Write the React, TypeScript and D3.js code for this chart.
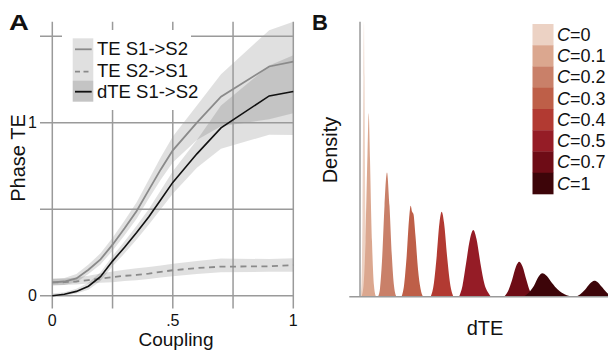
import React from "react";
import * as d3 from "d3";

// ---------- Panel A data ----------
const coupling = [0, 0.05, 0.1, 0.15, 0.2, 0.25, 0.3, 0.35, 0.4, 0.45, 0.5, 0.6, 0.7, 0.9, 1];
const te12 = [0.077, 0.082, 0.1, 0.15, 0.21, 0.295, 0.39, 0.49, 0.61, 0.73, 0.84, 1.0, 1.15, 1.325, 1.353];
const te12Lo = [0.057, 0.062, 0.078, 0.125, 0.18, 0.26, 0.35, 0.445, 0.56, 0.67, 0.77, 0.9, 0.98, 1.02, 1.054];
const te12Hi = [0.097, 0.102, 0.125, 0.18, 0.245, 0.335, 0.435, 0.54, 0.67, 0.8, 0.92, 1.1, 1.28, 1.535, 1.584];
const te21 = [0.077, 0.078, 0.082, 0.09, 0.098, 0.107, 0.115, 0.12, 0.128, 0.138, 0.147, 0.16, 0.168, 0.17, 0.177];
const te21Lo = [0.062, 0.062, 0.065, 0.07, 0.075, 0.078, 0.085, 0.09, 0.097, 0.105, 0.112, 0.125, 0.135, 0.138, 0.138];
const te21Hi = [0.1, 0.1, 0.105, 0.115, 0.128, 0.14, 0.15, 0.158, 0.166, 0.175, 0.185, 0.2, 0.215, 0.212, 0.216];
const dte = [0, 0.008, 0.025, 0.055, 0.11, 0.2, 0.28, 0.365, 0.455, 0.555, 0.655, 0.82, 0.97, 1.155, 1.18];
const dteLo = [0, 0, 0.012, 0.035, 0.085, 0.17, 0.245, 0.325, 0.41, 0.5, 0.59, 0.74, 0.85, 0.93, 0.929];
const dteHi = [0.012, 0.02, 0.04, 0.075, 0.135, 0.23, 0.315, 0.405, 0.5, 0.61, 0.72, 0.9, 1.1, 1.33, 1.39];

const xTicksA = [0, 0.25, 0.5, 0.75, 1];
const xTickLabelsA = ["0", "", ".5", "", "1"];
const yTicksA = [0, 0.5, 1, 1.5];
const yTickLabelsA = ["0", "", "1", ""];
const legendA = ["TE S1->S2", "TE S2->S1", "dTE S1->S2"];

// ---------- Panel B data ----------
const cLabels = ["0", "0.1", "0.2", "0.3", "0.4", "0.5", "0.7", "1"];
const cColors = ["#ecd2c4", "#dba78f", "#c98069", "#be5f48", "#b23a32", "#951c26", "#6e0c16", "#3d0509"];
const densC0 = [[0.0025, 0], [0.0075, 0.05], [0.0125, 0.3], [0.0175, 0.8], [0.02, 1.0], [0.0225, 0.8], [0.0275, 0.3], [0.0325, 0.05], [0.04, 0]];
const densC01 = [[0.0075, 0], [0.0175, 0.04], [0.0275, 0.2], [0.0375, 0.52], [0.0435, 0.667], [0.05, 0.5], [0.06, 0.2], [0.07, 0.04], [0.08, 0]];
const densC02 = [[0.09, 0], [0.1, 0.03], [0.11, 0.13], [0.1225, 0.33], [0.135, 0.452], [0.1475, 0.33], [0.16, 0.14], [0.17, 0.04], [0.1825, 0]];
const densC03 = [[0.2075, 0], [0.22, 0.04], [0.2325, 0.14], [0.245, 0.28], [0.2535, 0.331], [0.26, 0.31], [0.2675, 0.3], [0.2775, 0.22], [0.29, 0.1], [0.3025, 0.03], [0.315, 0]];
const densC04 = [[0.3525, 0], [0.3675, 0.04], [0.3825, 0.14], [0.3975, 0.27], [0.4085, 0.309], [0.42, 0.27], [0.435, 0.15], [0.45, 0.05], [0.4675, 0]];
const densC05 = [[0.495, 0], [0.5125, 0.04], [0.53, 0.12], [0.55, 0.21], [0.5665, 0.2425], [0.5825, 0.21], [0.6025, 0.12], [0.6225, 0.045], [0.645, 0.01], [0.655, 0]];
const densC07 = [[0.72, 0], [0.74, 0.02], [0.76, 0.06], [0.78, 0.11], [0.7965, 0.127], [0.8125, 0.11], [0.8325, 0.06], [0.85, 0.02], [0.87, 0]];
const densC1 = [[0.815, 0], [0.84, 0.012], [0.87, 0.04], [0.895, 0.075], [0.9115, 0.085], [0.93, 0.078], [0.96, 0.05], [0.99, 0.025], [1.025, 0.008], [1.06, 0.001], [1.075, 0], [1.1, 0.008], [1.125, 0.025], [1.15, 0.048], [1.1715, 0.058], [1.19, 0.052], [1.21, 0.035], [1.23, 0.018], [1.25, 0.005], [1.27, 0]];
const densities = [densC0, densC01, densC02, densC03, densC04, densC05, densC07, densC1];

const FONT = "'Liberation Sans', Arial, Helvetica, sans-serif";
const GRID = "#9a9a9a";

export default function App() {
  // Panel A scales
  const xA = d3.scaleLinear().domain([0, 1]).range([52.3, 293.3]);
  const yA = d3.scaleLinear().domain([0, 1]).range([295.7, 122.7]);
  const idx = coupling.map((_, i) => i);

  const band = (lo: number[], hi: number[]) =>
    d3.area<number>().x((i) => xA(coupling[i])).y0((i) => yA(lo[i])).y1((i) => yA(hi[i]))(idx) || "";
  const line = (v: number[]) => d3.line<number>().x((i) => xA(coupling[i])).y((i) => yA(v[i]))(idx) || "";

  // Panel B scales
  const xB = d3.scaleLinear().domain([0, 1.24]).range([360, 608]);
  const yB = d3.scaleLinear().domain([0, 1]).range([296.7, 21.7]);
  const densArea = d3
    .area<number[]>()
    .x((p) => xB(p[0]))
    .y0(yB(0))
    .y1((p) => yB(p[1]))
    .curve(d3.curveMonotoneX);

  const legY = [49.3, 71.7, 91.7];
  const legBase = [55, 76.7, 98.3];
  const swH = 21.25;

  return (
    <svg width={608} height={351} style={{ position: "absolute", left: 0, top: 0, fontFamily: FONT }}>
      <rect x={0} y={0} width={608} height={351} fill="#fff" />
      {/* ---------------- Panel A ---------------- */}
      <text transform="translate(9,30) scale(1.25,1)" fontSize={22} fontWeight="bold" fill="#111">A</text>

      {/* bands */}
      <path d={band(te21Lo, te21Hi)} fill="#000" fillOpacity={0.12} />
      <path d={band(te12Lo, te12Hi)} fill="#000" fillOpacity={0.12} />
      <path d={band(dteLo, dteHi)} fill="#000" fillOpacity={0.12} />

      {/* grid */}
      {xTicksA.map((t) => (
        <line key={"gx" + t} x1={xA(t)} x2={xA(t)} y1={21.7} y2={308.5} stroke={GRID} strokeWidth={1.5} />
      ))}
      {yTicksA.map((t) => (
        <line key={"gy" + t} x1={40} x2={xA(1)} y1={yA(t)} y2={yA(t)} stroke={GRID} strokeWidth={1.5} />
      ))}

      {/* legend box */}
      <rect x={62} y={30} width={129} height={80} fill="#fff" />
      <rect x={72.7} y={38.3} width={20.6} height={63.4} fill="#000" fillOpacity={0.12} />
      <rect x={72.7} y={80.7} width={20.6} height={21} fill="#000" fillOpacity={0.12} />

      {/* lines */}
      <path d={line(te21)} fill="none" stroke="#8a8a8a" strokeWidth={1.8} strokeDasharray="6,4.5" />
      <path d={line(te12)} fill="none" stroke="#8a8a8a" strokeWidth={1.8} />
      <path d={line(dte)} fill="none" stroke="#111" strokeWidth={1.6} />

      {/* legend entries */}
      <line x1={75} x2={91.7} y1={legY[0]} y2={legY[0]} stroke="#8a8a8a" strokeWidth={1.8} />
      <line x1={75} x2={92} y1={legY[1]} y2={legY[1]} stroke="#8a8a8a" strokeWidth={1.8} strokeDasharray="5,3.5" />
      <line x1={75} x2={91.7} y1={legY[2]} y2={legY[2]} stroke="#111" strokeWidth={1.8} />
      {legendA.map((l, i) => (
        <text key={l} x={97} y={legBase[i]} fontSize={18.5} fill="#111">{l}</text>
      ))}

      {/* tick labels */}
      {xTicksA.map((t, i) =>
        xTickLabelsA[i] ? (
          <text key={"xl" + t} x={xA(t)} y={326} fontSize={16} textAnchor="middle" fill="#111">{xTickLabelsA[i]}</text>
        ) : null
      )}
      {yTicksA.map((t, i) =>
        yTickLabelsA[i] ? (
          <text key={"yl" + t} x={37} y={yA(t) + 5.7} fontSize={16} textAnchor="end" fill="#111">{yTickLabelsA[i]}</text>
        ) : null
      )}
      <text x={176} y={346} fontSize={19} textAnchor="middle" fill="#111">Coupling</text>
      <text transform="translate(25,158) rotate(-90)" fontSize={20} textAnchor="middle" fill="#111">Phase TE</text>

      {/* ---------------- Panel B ---------------- */}
      <text x={312} y={30} fontSize={22} fontWeight="bold" fill="#111">B</text>
      {densities.map((d, i) => (
        <path key={"dens" + i} d={densArea(d) || ""} fill={cColors[i]} />
      ))}
      <line x1={xB(0)} x2={xB(0)} y1={21.7} y2={yB(0)} stroke={GRID} strokeWidth={1.5} />
      <line x1={349.3} x2={608} y1={yB(0)} y2={yB(0)} stroke={GRID} strokeWidth={1.5} />
      <text x={485} y={335} fontSize={20} textAnchor="middle" fill="#111">dTE</text>
      <text transform="translate(336.7,150) rotate(-90)" fontSize={20} textAnchor="middle" fill="#111">Density</text>

      {cLabels.map((c, i) => (
        <g key={"leg" + c}>
          <rect x={532.5} y={24 + i * swH} width={21} height={swH + 0.3} fill={cColors[i]} />
          <text x={557} y={24 + i * swH + swH / 2 + 6.3} fontSize={18} fill="#111">
            <tspan fontStyle="italic">C</tspan>
            <tspan>{"=" + c}</tspan>
          </text>
        </g>
      ))}
    </svg>
  );
}
